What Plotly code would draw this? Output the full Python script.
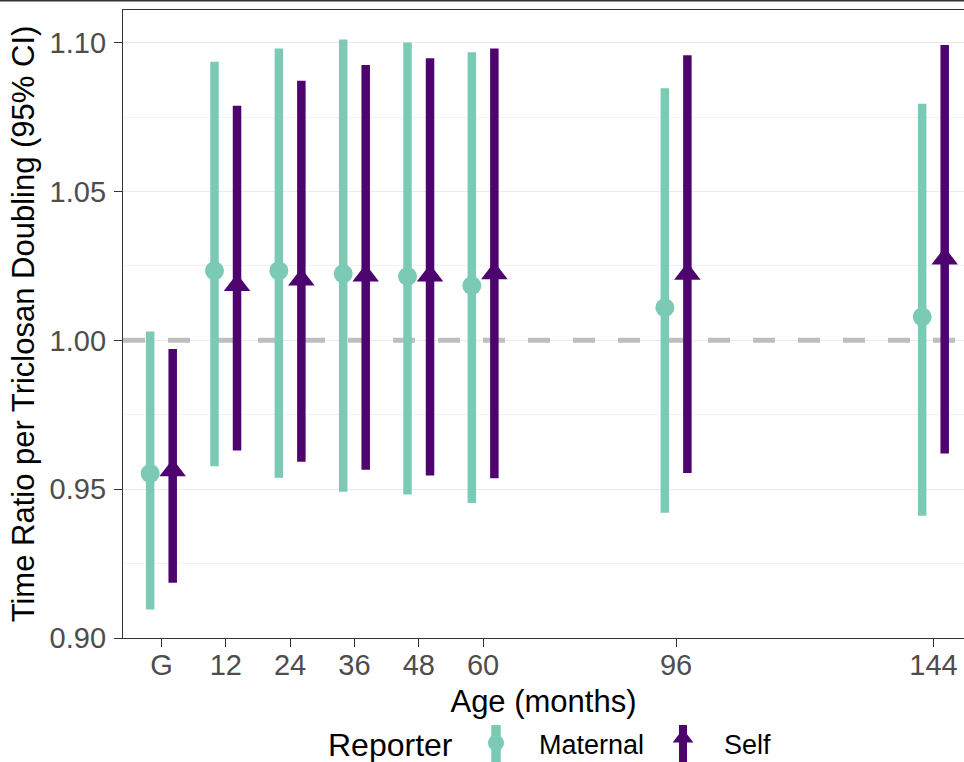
import plotly.graph_objects as go

# ---- data ----
ages = [0, 12, 24, 36, 48, 60, 96, 144]
age_labels = ["G", "12", "24", "36", "48", "60", "96", "144"]

maternal_est = [0.9553, 1.0234, 1.0234, 1.0224, 1.0215, 1.0184, 1.0110, 1.0079]
maternal_lo = [0.9096, 0.9577, 0.9538, 0.9491, 0.9482, 0.9454, 0.9421, 0.9411]
maternal_hi = [1.0030, 1.0936, 1.0981, 1.1011, 1.1001, 1.0968, 1.0847, 1.0795]

self_est = [0.9563, 1.0185, 1.0204, 1.0217, 1.0217, 1.0225, 1.0223, 1.0274]
self_lo = [0.9186, 0.9630, 0.9592, 0.9565, 0.9546, 0.9537, 0.9554, 0.9620]
self_hi = [0.9971, 1.0788, 1.0872, 1.0925, 1.0948, 1.0981, 1.0958, 1.0992]

reporters = ["Maternal", "Self"]
null_value = 1.0
y_ticks = [0.90, 0.95, 1.00, 1.05, 1.10]
y_tick_labels = ["0.90", "0.95", "1.00", "1.05", "1.10"]

# ---- style ----
W, H = 964, 762
MINT = "#7ACAB5"
PURPLE = "#4E046F"
DODGE = 2.1
FONT = "Liberation Sans, Arial, sans-serif"
X_RANGE = [-7.17, 149.7]
Y_RANGE = [0.9, 1.111]

fig = go.Figure()

# reference line at 1 (drawn first so the bars sit on top of it)
fig.add_trace(go.Scatter(
    x=X_RANGE, y=[null_value, null_value], mode="lines",
    line=dict(color="#BEBEBE", width=5, dash="22px,23px"),
    showlegend=False, hoverinfo="skip", xaxis="x", yaxis="y",
))

series = [
    (reporters[0], maternal_est, maternal_lo, maternal_hi, MINT, "circle", 19, -DODGE),
    (reporters[1], self_est, self_lo, self_hi, PURPLE, "triangle-up", 23, DODGE),
]
for name, est, lo, hi, col, sym, size, off in series:
    fig.add_trace(go.Scatter(
        x=[a + off for a in ages], y=est, mode="markers", name=name,
        marker=dict(color=col, symbol=sym, size=size, line=dict(width=0)),
        error_y=dict(type="data", symmetric=False,
                     array=[h - e for h, e in zip(hi, est)],
                     arrayminus=[e - l for e, l in zip(est, lo)],
                     color=col, thickness=8.5, width=0),
        showlegend=False, xaxis="x", yaxis="y",
    ))

# ---- hand-made legend glyphs on a pixel-space helper axis ----
leg_items = [
    (reporters[0], 496, MINT, "circle", 16, 743, 9.5),
    (reporters[1], 683, PURPLE, "triangle-up", 18, 738, 8),
]
for name, px, col, sym, size, py, lw in leg_items:
    fig.add_trace(go.Scatter(x=[px, px], y=[725, 765], mode="lines",
                             line=dict(color=col, width=lw), showlegend=False,
                             hoverinfo="skip", xaxis="x2", yaxis="y2"))
    fig.add_trace(go.Scatter(x=[px], y=[py], mode="markers",
                             marker=dict(color=col, symbol=sym, size=size, line=dict(width=0)),
                             showlegend=False, hoverinfo="skip", xaxis="x2", yaxis="y2"))

top_px, bot_px, left_px = 10, 638, 123
fig.update_layout(
    template="none",
    width=W, height=H, autosize=False,
    margin=dict(l=0, r=0, t=0, b=0, pad=0),
    paper_bgcolor="white", plot_bgcolor="rgba(0,0,0,0)",
    font=dict(family=FONT, color="black"),
    showlegend=False,
    xaxis=dict(
        domain=[left_px / W, 1], range=X_RANGE, autorange=False, automargin=False,
        tickvals=ages, ticktext=age_labels, ticks="outside", ticklen=8,
        tickwidth=1.3, tickcolor="#333333", ticklabelstandoff=-7,
        tickfont=dict(size=29, color="#4D4D4D"),
        showgrid=False, zeroline=False,
        showline=True, linecolor="#333333", linewidth=1.3, mirror=True,
        title=dict(text="Age (months)", font=dict(size=31, color="black"), standoff=10),
        anchor="y",
    ),
    yaxis=dict(
        domain=[(H - bot_px) / H, (H - top_px) / H], range=Y_RANGE, autorange=False,
        automargin=False,
        tickvals=y_ticks, ticktext=y_tick_labels, ticks="outside", ticklen=8,
        tickwidth=1.3, tickcolor="#333333", ticklabelstandoff=2,
        tickfont=dict(size=29, color="#4D4D4D"),
        showgrid=True, gridcolor="#EBEBEB", gridwidth=1.4,
        minor=dict(dtick=0.025, tick0=0.9, showgrid=True, gridcolor="#F2F2F2",
                   gridwidth=0.8, ticks=""),
        zeroline=False, showline=True, linecolor="#333333", linewidth=1.3,
        title=dict(text="Time Ratio per Triclosan Doubling (95% CI)",
                   font=dict(size=31, color="black"), standoff=5),
        anchor="x",
    ),
    xaxis2=dict(domain=[0, 1], range=[0, W], autorange=False, visible=False,
                automargin=False, anchor="y2", fixedrange=True),
    yaxis2=dict(domain=[0, 60 / H], range=[H, H - 60], autorange=False, visible=False,
                automargin=False, anchor="x2", fixedrange=True),
    shapes=[
        dict(type="line", xref="paper", yref="paper", x0=0, x1=1,
             y0=1 - 0.8 / H, y1=1 - 0.8 / H, line=dict(color="#333333", width=1.6)),
    ],
    annotations=[
        dict(text="Reporter", x=390 / W, y=1 - 745 / H, xref="paper", yref="paper",
             showarrow=False, font=dict(size=32, color="black"), xanchor="center", yanchor="middle"),
        dict(text=reporters[0], x=537 / W, y=1 - 745 / H, xref="paper", yref="paper",
             showarrow=False, font=dict(size=27, color="black"), xanchor="left", yanchor="middle"),
        dict(text=reporters[1], x=722 / W, y=1 - 745 / H, xref="paper", yref="paper",
             showarrow=False, font=dict(size=27, color="black"), xanchor="left", yanchor="middle"),
    ],
)

fig.write_html(
    "out.html",
    config={"responsive": False, "displayModeBar": False},
    post_script="document.body.style.margin='0';document.body.style.overflow='hidden';",
)
